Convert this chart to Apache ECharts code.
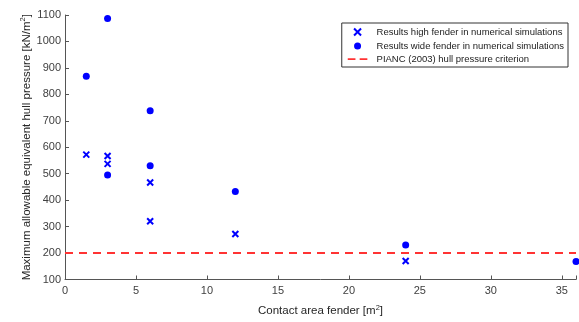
<!DOCTYPE html>
<html>
<head>
<meta charset="utf-8">
<script src="https://cdn.jsdelivr.net/npm/echarts@6/dist/echarts.min.js"></script>
<style>
  html, body { margin: 0; padding: 0; background: #fff; }
  #chart { width: 579px; height: 322px; }
</style>
</head>
<body>
<div id="chart"></div>
<script>
// contact area [m2] and pressure [kN/m2]
const highX = [1.5, 3, 3, 6, 6, 12, 24];
const highY = [572, 567, 537, 467, 320, 272, 170];
const wideX = [1.5, 3, 3, 6, 6, 12, 24, 36];
const wideY = [868, 1087, 495, 738, 530, 433, 230, 168];
const criterionX = [0, 36];
const criterionY = [200, 200];
const xTicks = [0, 5, 10, 15, 20, 25, 30, 35];
const yTicks = [100, 200, 300, 400, 500, 600, 700, 800, 900, 1000, 1100];

const pairs = (xs, ys) => xs.map((x, i) => [x, ys[i]]);
const crossPath = 'path://M0,0L10,10M10,0L0,10';
const dashIcon = 'path://M0,0M0,4h11v2.4h-11zM17,4h11v2.4h-11zM28,10';
const blue = '#0000ff';
const red = '#ff3333';
const axisGray = '#404040';
const font = 'Liberation Sans, Arial, sans-serif';

const nameRich = {
  n: { fontSize: 11.5, color: '#262626', fontFamily: font },
  s: { fontSize: 7.5, color: '#262626', fontFamily: font, verticalAlign: 'bottom', padding: [0, 0, 7, 0] }
};

const chart = echarts.init(document.getElementById('chart'));
chart.setOption({
  animation: false,
  textStyle: { fontFamily: font },
  grid: { left: 65, right: 3, top: 15, bottom: 37 },
  legend: {
    right: 11,
    top: 23,
    orient: 'vertical',
    itemGap: 3,
    itemWidth: 28,
    itemHeight: 7,
    padding: [3, 4, 3, 6],
    borderColor: '#333',
    borderWidth: 1,
    backgroundColor: '#fff',
    textStyle: { fontSize: 9.5, color: '#222', fontFamily: font },
    data: [
      { name: 'Results high fender in numerical simulations' },
      { name: 'Results wide fender in numerical simulations' },
      { name: 'PIANC (2003) hull pressure criterion', icon: dashIcon, itemStyle: { color: red } }
    ]
  },
  xAxis: {
    type: 'value',
    min: 0,
    max: 36,
    interval: 5,
    name: '{n|Contact area fender [m}{s|2}{n|]}',
    nameLocation: 'middle',
    nameGap: 24,
    nameMoveOverlap: false,
    nameTextStyle: { rich: nameRich },
    axisLine: { lineStyle: { color: '#555', width: 1 } },
    axisTick: { inside: true, length: 4, lineStyle: { color: '#555' } },
    axisLabel: { color: axisGray, fontSize: 11, margin: 6,
      formatter: v => xTicks.includes(v) ? String(v) : '' },
    splitLine: { show: false }
  },
  yAxis: {
    type: 'value',
    min: 100,
    max: 1100,
    interval: 100,
    name: '{n|Maximum allowable equivalent hull pressure [kN/m}{s|2}{n|]}',
    nameLocation: 'middle',
    nameGap: 31,
    nameMoveOverlap: false,
    nameTextStyle: { rich: nameRich },
    axisLine: { show: true, lineStyle: { color: '#555', width: 1 } },
    axisTick: { show: true, inside: true, length: 4, lineStyle: { color: '#555' } },
    axisLabel: { color: axisGray, fontSize: 11, margin: 4,
      formatter: v => yTicks.includes(v) ? String(v) : '' },
    splitLine: { show: false }
  },
  series: [
    {
      name: 'Results high fender in numerical simulations',
      type: 'scatter',
      symbol: crossPath,
      symbolSize: 6,
      itemStyle: { color: 'none', borderColor: blue, borderWidth: 2, opacity: 1 },
      data: pairs(highX, highY)
    },
    {
      name: 'Results wide fender in numerical simulations',
      type: 'scatter',
      symbol: 'circle',
      symbolSize: 7,
      itemStyle: { color: blue, opacity: 1 },
      data: pairs(wideX, wideY)
    },
    {
      name: 'PIANC (2003) hull pressure criterion',
      type: 'line',
      symbol: 'none',
      lineStyle: { color: red, width: 2, type: [8, 6] },
      itemStyle: { color: red },
      data: pairs(criterionX, criterionY),
      z: 1
    }
  ]
});
</script>
</body>
</html>
